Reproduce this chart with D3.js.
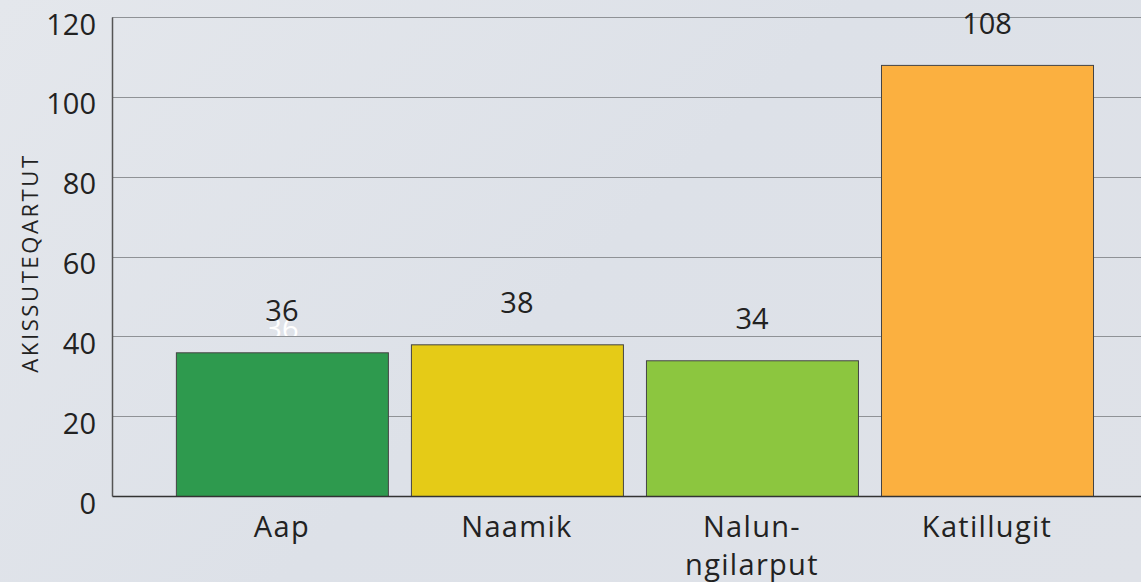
<!DOCTYPE html>
<html><head><meta charset="utf-8">
<script src="https://cdn.jsdelivr.net/npm/d3@7"></script>
<style>
html,body{margin:0;padding:0;}
body{width:1141px;height:582px;overflow:hidden;background:linear-gradient(135deg,#e4e7ec 0%,#dde1e8 50%,#dfe2e8 100%);}
text{font-family:"Open Sans","Noto Sans",sans-serif;fill:#222;}
</style></head>
<body>
<svg id="c" width="1141" height="582"></svg>
<script>
const categories = ["Aap", "Naamik", "Nalun-\nngilarput", "Katillugit"];
const values = [36, 38, 34, 108];
const colors = ["#2e9a4e", "#e5cb17", "#8cc63f", "#fbb040"];
const yTicks = [0, 20, 40, 60, 80, 100, 120];
const yTitle = "AKISSUTEQARTUT";

(function() {
const svg = d3.select("#c");
const pLeft = 112, pRight = 1141, pTop = 17, pBottom = 496;
const FONT = '"Open Sans","Noto Sans",sans-serif';

const y = d3.scaleLinear().domain([0, 120]).range([pBottom, pTop]);
const x = d3.scaleBand().domain(categories).range([pLeft, pRight])
  .paddingInner(0.098).paddingOuter(0.238).align(0.571);

// gridlines
svg.append("g").selectAll("line").data(yTicks.filter(d => d > 0)).join("line")
  .attr("x1", pLeft).attr("x2", pRight)
  .attr("y1", d => Math.round(y(d)) + 0.5).attr("y2", d => Math.round(y(d)) + 0.5)
  .attr("stroke", "#8f9296").attr("stroke-width", 1);

// bars
svg.append("g").selectAll("rect").data(values).join("rect")
  .attr("x", (d, i) => x(categories[i]) + 0.5)
  .attr("y", d => y(d) + 0.5)
  .attr("width", x.bandwidth())
  .attr("height", d => pBottom - y(d))
  .attr("fill", (d, i) => colors[i])
  .attr("stroke", "#444").attr("stroke-width", 1);

// ghost label (white) for first bar
svg.append("defs").append("clipPath").attr("id", "gc")
  .append("rect").attr("x", 0).attr("y", 0).attr("width", 1141).attr("height", Math.round(y(40)));
svg.append("text").attr("clip-path", "url(#gc)")
  .attr("x", x(categories[0]) + x.bandwidth() / 2).attr("y", y(values[0]) - 13)
  .attr("text-anchor", "middle").attr("font-size", 29)
  .style("fill", "#ffffff").text(values[0]);

// value labels
svg.append("g").selectAll("text").data(values).join("text")
  .attr("x", (d, i) => x(categories[i]) + x.bandwidth() / 2)
  .attr("y", d => y(d) - 31)
  .attr("text-anchor", "middle").attr("font-size", 29)
  .text(d => d);

// axes
const yAxis = d3.axisLeft(y).tickValues(yTicks).tickSize(0).tickPadding(16);
const gy = svg.append("g").attr("transform", `translate(${pLeft},0)`).call(yAxis);
gy.select(".domain").attr("stroke", "#555").attr("stroke-width", 1.5);
gy.selectAll("text").attr("font-size", 29).attr("dy", null).attr("y", 17)
  .style("font-family", FONT).style("fill", "#222");

const xAxis = d3.axisBottom(x).tickSize(0).tickFormat(() => "");
const gx = svg.append("g").attr("transform", `translate(0,${pBottom})`).call(xAxis);
gx.select(".domain").attr("stroke", "#333").attr("stroke-width", 1.5);
gx.selectAll(".tick").each(function(d) {
  const lines = d.split("\n");
  const t = d3.select(this).select("text").attr("y", 0).attr("dy", null)
    .attr("font-size", 29).style("letter-spacing", "1.3px")
    .style("font-family", FONT).style("fill", "#222");
  t.selectAll("tspan").data(lines).join("tspan")
    .attr("x", 0).attr("y", (l, i) => 41 + i * 38).text(l => l);
});

// y title
svg.append("text")
  .attr("transform", `translate(38,263) rotate(-90)`)
  .attr("text-anchor", "middle").attr("font-size", 22)
  .style("letter-spacing", "2.6px")
  .text(yTitle);
})();
</script>
</body></html>
